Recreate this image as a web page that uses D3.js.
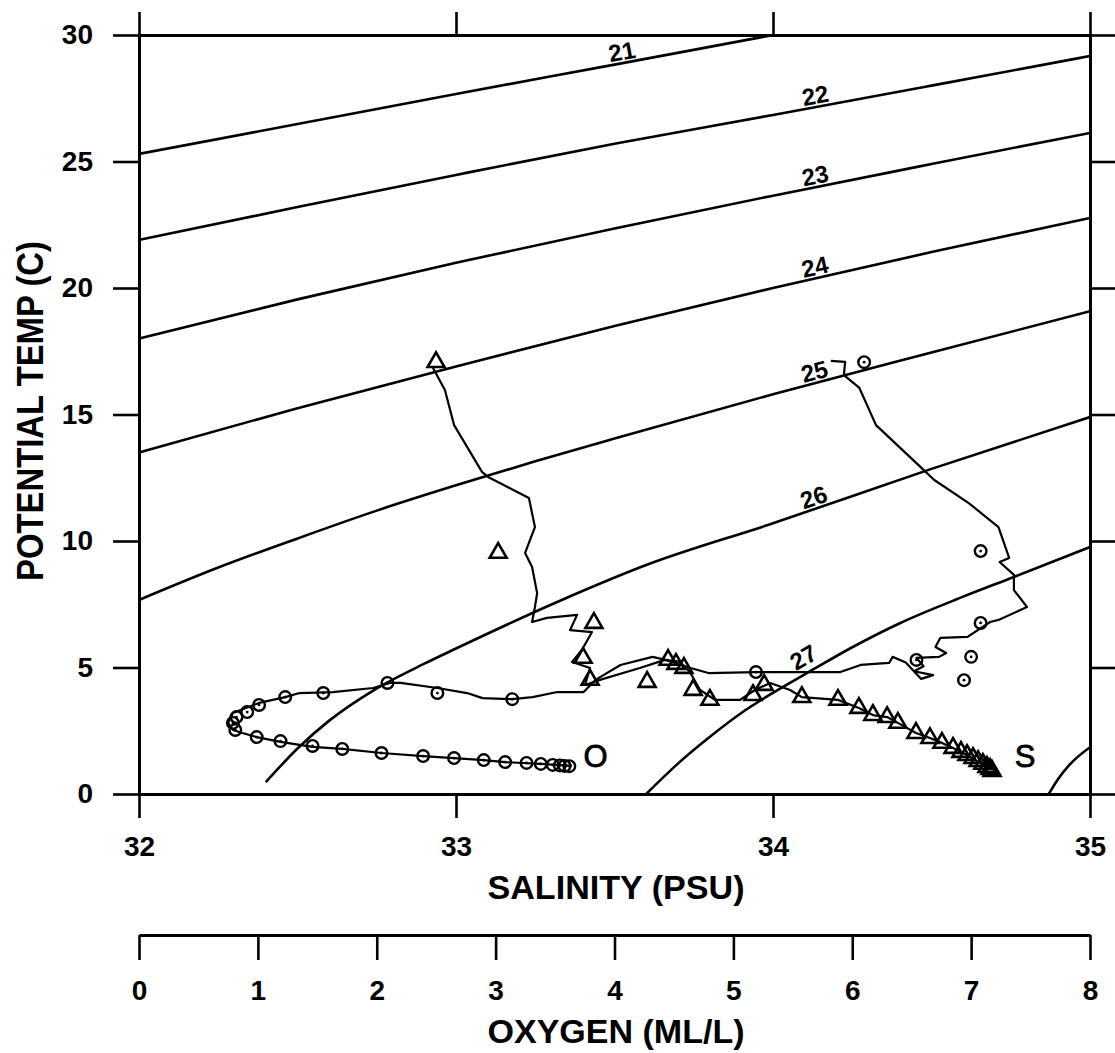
<!DOCTYPE html>
<html>
<head>
<meta charset="utf-8">
<script src="https://cdn.jsdelivr.net/npm/d3@7"></script>
<style>
  body { margin: 0; background: #fff; }
  text { font-family: "Liberation Sans", Arial, sans-serif; fill: #000; }
</style>
</head>
<body>
<svg id="chart" width="1115" height="1053"></svg>
<script>
"use strict";

// tick values
var salTicks = [32, 33, 34, 35];
var tempTicks = [0, 5, 10, 15, 20, 25, 30];
var oxyTicks = [0, 1, 2, 3, 4, 5, 6, 7, 8];

// sigma-theta isopycnals, [salinity, temp]
var sig21 = [[32, 25.3], [32.5, 26.48], [33, 27.67], [33.5, 28.83], [34.0, 30.0]];
var sig22 = [[32, 21.9], [32.5, 23.2], [33, 24.47], [33.5, 25.7], [34, 26.84], [34.5, 28.0], [35, 29.17]];
var sig23 = [[32, 18.0], [32.5, 19.55], [33, 21.0], [33.5, 22.35], [34, 23.65], [34.5, 24.9], [35, 26.13]];
var sig24 = [[32, 13.5], [32.5, 15.25], [33, 16.9], [33.5, 18.5], [34, 20.0], [34.5, 21.42], [35, 22.77]];
var sig25 = [[32, 7.67], [32.25, 8.95], [32.5, 10.1], [32.75, 11.2], [33, 12.2], [33.25, 13.15], [33.5, 14.05], [34, 15.8], [34.5, 17.45], [35, 19.08]];
var sig26 = [[32.40, 0.47], [32.5, 1.8], [32.6, 2.9], [32.74, 4.1], [32.9, 5.15], [33, 5.75], [33.33, 7.65], [33.6, 9.05], [34, 10.7], [34.5, 12.85], [35, 14.9]];
var sig27 = [[33.60, 0], [33.7, 1.2], [33.8, 2.25], [33.9, 3.2], [34, 4.0], [34.11, 4.8], [34.25, 5.8], [34.4, 6.75], [34.6, 7.8], [34.76, 8.58], [35, 9.76]];
var sig28 = [[34.87, 0], [34.9, 0.6], [34.935, 1.15], [35, 1.85]];

var sigLevels = ["21", "22", "23", "24", "25", "26", "27", "28"];
var sigLabelSal = [33.53, 34.14, 34.14, 34.14, 34.14, 34.14, 34.12, null];

// CTD salinity profile [salinity, temp]
var salLine = [[32.925, 16.9], [32.931, 16.76], [32.965, 15.97], [32.994, 14.58], [33.082, 12.73], [33.101, 12.53],
  [33.230, 11.70], [33.249, 10.55], [33.218, 9.53], [33.240, 8.97], [33.256, 7.94], [33.249, 7.39], [33.240, 6.80],
  [33.287, 6.96], [33.382, 7.08], [33.360, 6.48], [33.429, 6.40], [33.397, 5.69], [33.366, 5.22], [33.423, 4.98],
  [33.407, 4.31], [33.454, 4.51], [33.580, 4.98], [33.659, 5.30], [33.707, 5.22], [33.738, 4.82], [33.770, 4.11],
  [33.817, 3.72], [33.896, 3.72], [33.943, 4.11], [33.991, 4.39], [34.054, 4.11], [34.091, 3.83], [34.205, 3.72],
  [34.271, 3.40], [34.315, 3.12], [34.360, 3.04], [34.394, 2.81], [34.451, 2.41], [34.495, 2.21], [34.533, 2.02],
  [34.568, 1.82], [34.612, 1.54], [34.647, 1.26], [34.685, 1.03]];

// bottle salinity (triangles)
var salBottles = [[32.937, 17.07], [33.133, 9.53], [33.435, 6.76], [33.401, 5.38], [33.423, 4.51], [33.603, 4.43],
  [33.669, 5.30], [33.694, 5.14], [33.719, 4.98], [33.748, 4.11], [33.801, 3.72], [33.937, 3.91], [33.972, 4.31],
  [34.091, 3.83], [34.205, 3.72], [34.271, 3.40], [34.315, 3.12], [34.360, 3.04], [34.394, 2.81], [34.451, 2.41],
  [34.495, 2.21], [34.533, 2.02], [34.568, 1.82], [34.593, 1.66], [34.612, 1.54], [34.631, 1.42], [34.647, 1.30],
  [34.662, 1.19], [34.675, 1.07], [34.685, 0.99], [34.691, 0.91]];

// CTD oxygen profile [oxygen, temp]
var oxyLine = [[5.82, 17.12], [5.94, 17.08], [5.93, 16.56], [6.06, 16.05], [6.20, 14.58], [6.60, 12.81], [6.69, 12.41],
  [6.98, 11.50], [7.23, 10.55], [7.32, 9.33], [7.24, 9.17], [7.36, 8.66], [7.36, 8.06], [7.47, 7.39], [7.23, 6.88],
  [7.16, 6.80], [6.97, 6.21], [6.74, 6.17], [6.70, 5.81], [6.79, 5.57], [6.73, 5.42], [6.54, 5.38], [6.60, 5.05],
  [6.52, 4.85], [6.68, 4.70], [6.58, 4.55], [6.45, 5.2], [6.34, 5.42], [6.31, 5.18], [6.07, 5.10], [5.90, 4.82],
  [5.19, 4.82], [4.79, 4.78], [4.64, 4.98], [4.43, 5.30], [4.32, 5.42], [4.05, 5.10], [3.84, 4.51], [3.74, 4.03],
  [3.52, 4.03], [3.31, 3.83], [3.14, 3.75], [2.89, 3.79], [2.76, 3.99], [2.51, 4.19], [2.20, 4.39], [2.11, 4.39],
  [1.97, 4.19], [1.63, 4.03], [1.35, 3.99], [1.23, 3.83], [1.01, 3.60], [0.79, 3.20], [0.75, 2.81], [0.79, 2.53],
  [0.87, 2.41], [0.99, 2.25], [1.19, 2.06], [1.46, 1.86], [1.71, 1.78], [2.04, 1.62], [2.39, 1.50], [2.65, 1.42],
  [2.90, 1.34], [3.08, 1.26], [3.38, 1.19], [3.64, 1.11]];

// bottle oxygen (circles)
var oxyBottles = [[6.10, 17.07], [7.08, 9.6], [7.08, 6.76], [7.0, 5.42], [6.94, 4.5], [6.54, 5.3], [5.19, 4.82],
  [3.14, 3.75], [2.51, 3.99], [2.09, 4.39], [1.55, 3.99], [1.23, 3.83], [1.01, 3.52], [0.91, 3.24], [0.82, 3.04],
  [0.79, 2.81], [0.81, 2.53], [0.99, 2.25], [1.19, 2.09], [1.46, 1.90], [1.71, 1.78], [2.04, 1.62], [2.39, 1.50],
  [2.65, 1.42], [2.90, 1.34], [3.08, 1.26], [3.26, 1.23], [3.38, 1.19], [3.48, 1.15], [3.54, 1.13], [3.58, 1.11],
  [3.62, 1.10]];

var svg = d3.select("#chart");

var x = d3.scaleLinear().domain([32, 35]).range([139, 1090]);
var y = d3.scaleLinear().domain([0, 30]).range([794, 35]);
var xo = d3.scaleLinear().domain([0, 8]).range([139, 1090]);

svg.append("defs").append("clipPath").attr("id", "plot")
  .append("rect").attr("x", x(32)).attr("y", y(30))
  .attr("width", x(35) - x(32)).attr("height", y(0) - y(30));

// isopycnals
var curves = [sig21, sig22, sig23, sig24, sig25, sig26, sig27, sig28];
var contour = d3.line().x(d => x(d[0])).y(d => y(d[1])).curve(d3.curveMonotoneX);

var gSig = svg.append("g").attr("clip-path", "url(#plot)");
gSig.selectAll("path").data(curves).enter().append("path")
  .attr("d", contour)
  .attr("fill", "none").attr("stroke", "#000").attr("stroke-width", 2.6);

// labels of isopycnals
function labelPos(curve, s) {
  for (var i = 0; i < curve.length - 1; i++) {
    var a = curve[i], b = curve[i + 1];
    if (s >= a[0] && s <= b[0]) {
      var f = (s - a[0]) / (b[0] - a[0]);
      var t = a[1] + f * (b[1] - a[1]);
      var ang = Math.atan2(y(b[1]) - y(a[1]), x(b[0]) - x(a[0])) * 180 / Math.PI;
      return [x(s), y(t), ang];
    }
  }
  return null;
}

sigLevels.forEach(function (lev, i) {
  if (sigLabelSal[i] === null) return;
  var p = labelPos(curves[i], sigLabelSal[i]);
  svg.append("text")
    .attr("transform", "translate(" + p[0] + "," + p[1] + ") rotate(" + p[2] + ")")
    .attr("dy", lev === "27" ? -7 : -3)
    .attr("text-anchor", "middle")
    .attr("font-size", 24).attr("font-weight", "bold")
    .text(lev);
});

// profiles
var salPath = d3.line().x(d => x(d[0])).y(d => y(d[1]));
var oxyPath = d3.line().x(d => xo(d[0])).y(d => y(d[1]));

svg.append("path").datum(salLine).attr("d", salPath)
  .attr("fill", "none").attr("stroke", "#000").attr("stroke-width", 2.2).attr("stroke-linejoin", "round");
svg.append("path").datum(oxyLine).attr("d", oxyPath)
  .attr("fill", "none").attr("stroke", "#000").attr("stroke-width", 2.2).attr("stroke-linejoin", "round");

var tri = d3.symbol().type(d3.symbolTriangle).size(125);
svg.append("g").selectAll("path").data(salBottles).enter().append("path")
  .attr("d", tri)
  .attr("transform", d => "translate(" + x(d[0]) + "," + y(d[1]) + ")")
  .attr("fill", "none").attr("stroke", "#000").attr("stroke-width", 2.6);

var gO = svg.append("g").selectAll("g").data(oxyBottles).enter().append("g")
  .attr("transform", d => "translate(" + xo(d[0]) + "," + y(d[1]) + ")");
gO.append("circle").attr("r", 5.8).attr("fill", "none").attr("stroke", "#000").attr("stroke-width", 2.4);
gO.append("circle").attr("r", 1.4).attr("fill", "#000");

// end labels
svg.append("text").attr("x", xo(3.84)).attr("y", y(1.05)).attr("text-anchor", "middle")
  .attr("font-size", 31).attr("stroke", "#000").attr("stroke-width", 0.8).text("O");
svg.append("text").attr("x", x(34.795)).attr("y", y(1.05)).attr("text-anchor", "middle")
  .attr("font-size", 31).attr("stroke", "#000").attr("stroke-width", 0.8).text("S");

// axes
function styleAxis(g) {
  g.select(".domain").attr("stroke-width", 3);
  g.selectAll(".tick line").attr("stroke-width", 2.6);
  g.selectAll(".tick text").attr("font-size", 28).attr("font-weight", "bold")
    .attr("font-family", "'Liberation Sans', Arial, sans-serif");
}

svg.append("g").attr("transform", "translate(" + x(32) + ",0)")
  .call(d3.axisLeft(y).tickValues(tempTicks).tickSize(26).tickSizeOuter(0).tickPadding(20).tickFormat(d3.format("d")))
  .call(styleAxis);
svg.append("g").attr("transform", "translate(" + x(35) + ",0)")
  .call(d3.axisRight(y).tickValues(tempTicks).tickSize(25).tickSizeOuter(0).tickFormat(""))
  .call(styleAxis);
svg.append("g").attr("transform", "translate(0," + y(30) + ")")
  .call(d3.axisTop(x).tickValues(salTicks).tickSize(23).tickSizeOuter(0).tickFormat(""))
  .call(styleAxis);
svg.append("g").attr("transform", "translate(0," + y(0) + ")")
  .call(d3.axisBottom(x).tickValues(salTicks).tickSize(24).tickSizeOuter(0).tickPadding(18).tickFormat(d3.format("d")))
  .call(styleAxis);

svg.append("g").attr("transform", "translate(0,935)")
  .call(d3.axisBottom(xo).tickValues(oxyTicks).tickSize(25).tickSizeOuter(0).tickPadding(20).tickFormat(d3.format("d")))
  .call(styleAxis);

svg.selectAll(".domain, .tick line").attr("stroke", "#000");

// axis titles
svg.append("text").attr("x", 616).attr("y", 899).attr("text-anchor", "middle")
  .attr("font-size", 33).attr("font-weight", "bold")
  .attr("textLength", 257).attr("lengthAdjust", "spacingAndGlyphs")
  .text("SALINITY (PSU)");
svg.append("text").attr("x", 616).attr("y", 1043).attr("text-anchor", "middle")
  .attr("font-size", 33).attr("font-weight", "bold")
  .attr("textLength", 257).attr("lengthAdjust", "spacingAndGlyphs")
  .text("OXYGEN (ML/L)");
svg.append("text").attr("transform", "translate(43,411) rotate(-90)").attr("text-anchor", "middle")
  .attr("font-size", 36).attr("font-weight", "bold")
  .attr("textLength", 340).attr("lengthAdjust", "spacingAndGlyphs")
  .text("POTENTIAL TEMP (C)");
</script>
</body>
</html>
